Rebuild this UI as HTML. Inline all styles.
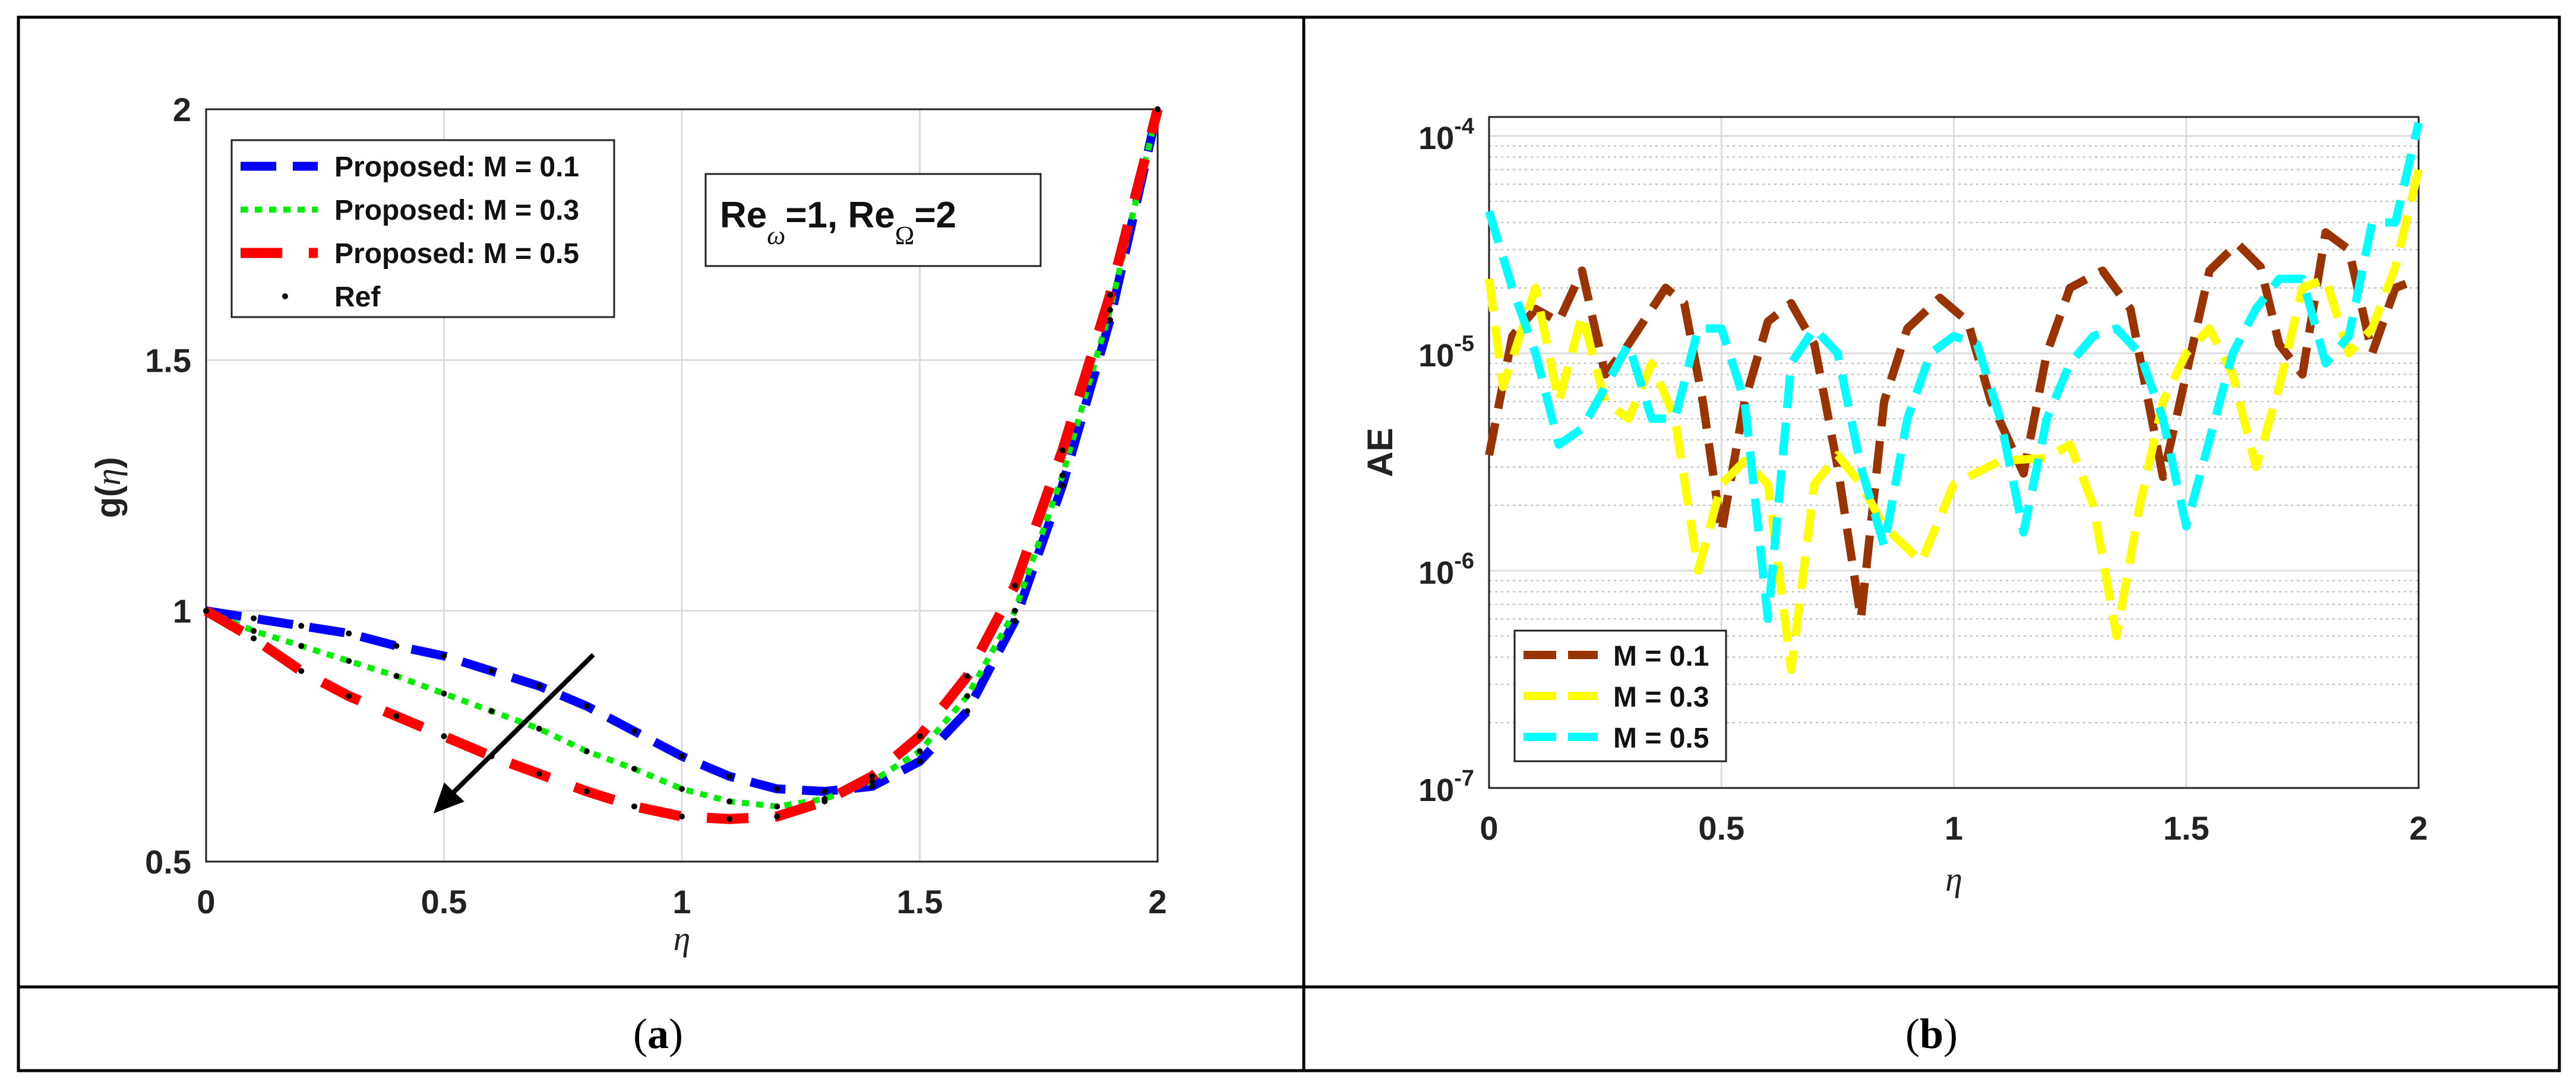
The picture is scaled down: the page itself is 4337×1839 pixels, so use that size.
<!DOCTYPE html>
<html><head><meta charset="utf-8"><style>
html,body{margin:0;padding:0;background:#fff;}
svg{display:block;font-family:"Liberation Sans",sans-serif;}
</style></head><body>
<svg id="fig" width="4337" height="1839" viewBox="0 0 4337 1839" xmlns="http://www.w3.org/2000/svg">
<rect x="0" y="0" width="4337" height="1839" fill="#fff"/>
<g stroke="#000" stroke-width="5" fill="none">
<rect x="31" y="29" width="4278" height="1774"/>
<line x1="2195" y1="29" x2="2195" y2="1803"/>
<line x1="31" y1="1662" x2="4309" y2="1662"/>
</g>
<text x="1108" y="1765" font-family="Liberation Serif,serif" font-size="72" text-anchor="middle">(<tspan font-weight="bold">a</tspan>)</text>
<text x="3252" y="1765" font-family="Liberation Serif,serif" font-size="72" text-anchor="middle">(<tspan font-weight="bold">b</tspan>)</text>
<g id="left"></g>
<g id="right"></g>
</svg>
<script>
const NS="http://www.w3.org/2000/svg";
// ---- Chart A data ----
const etaA=[0,0.1,0.2,0.3,0.4,0.5,0.6,0.7,0.8,0.9,1.0,1.1,1.2,1.3,1.4,1.5,1.6,1.7,1.8,1.9,2.0];
const gM1=[1,0.985,0.97,0.955,0.93,0.91,0.88,0.85,0.81,0.76,0.71,0.67,0.645,0.64,0.65,0.70,0.80,0.98,1.25,1.58,2.0];
const gM3=[1,0.96,0.93,0.9,0.87,0.835,0.8,0.765,0.72,0.685,0.645,0.62,0.61,0.625,0.66,0.72,0.83,1.0,1.27,1.6,2.0];
const gM5=[1,0.945,0.88,0.83,0.79,0.75,0.71,0.675,0.64,0.61,0.59,0.585,0.59,0.62,0.67,0.75,0.87,1.05,1.32,1.63,2.0];
const xTicksA=[0,0.5,1,1.5,2];
const yTicksA=[0.5,1,1.5,2];
const legendA=["Proposed: M = 0.1","Proposed: M = 0.3","Proposed: M = 0.5","Ref"];
// ---- Chart B data ----
const etaB1=[0,0.05,0.1,0.15,0.2,0.25,0.3,0.38,0.42,0.46,0.5,0.55,0.6,0.65,0.7,0.75,0.8,0.85,0.9,0.97,1.03,1.08,1.15,1.2,1.25,1.32,1.38,1.45,1.5,1.55,1.61,1.66,1.7,1.75,1.8,1.85,1.9,1.95,2.0];
const aeM1=[3.4e-6,1.2e-5,1.6e-5,1.4e-5,2.4e-5,8e-6,1.1e-5,2e-5,1.7e-5,6e-6,1.5e-6,6e-6,1.4e-5,1.7e-5,1.1e-5,3e-6,6e-7,6e-6,1.3e-5,1.8e-5,1.4e-5,6e-6,2.8e-6,1e-5,2e-5,2.4e-5,1.6e-5,2.7e-6,8e-6,2.4e-5,3.2e-5,2.5e-5,1.1e-5,8e-6,3.6e-5,3e-5,1e-5,2e-5,2.2e-5];
const etaB3=[0,0.03,0.1,0.15,0.2,0.25,0.3,0.35,0.4,0.45,0.5,0.55,0.6,0.65,0.7,0.75,0.8,0.85,0.93,1.0,1.1,1.2,1.25,1.3,1.35,1.4,1.45,1.5,1.55,1.6,1.65,1.7,1.75,1.8,1.85,1.9,1.95,2.0];
const aeM3=[2.2e-5,7e-6,2e-5,6e-6,1.5e-5,6e-6,5e-6,9e-6,5e-6,1e-6,2.5e-6,3.2e-6,2.5e-6,3.5e-7,2.5e-6,3.4e-6,2.5e-6,1.6e-6,1.1e-6,2.5e-6,3.2e-6,3.3e-6,3.8e-6,2e-6,5e-7,2e-6,6e-6,1e-5,1.3e-5,8e-6,3e-6,7e-6,2e-5,2.2e-5,1e-5,1.3e-5,2.5e-5,7e-5];
const etaB5=[0,0.05,0.1,0.15,0.2,0.25,0.3,0.35,0.4,0.45,0.5,0.55,0.6,0.63,0.65,0.7,0.75,0.8,0.85,0.9,0.95,1.0,1.05,1.1,1.15,1.2,1.25,1.3,1.35,1.4,1.45,1.5,1.55,1.6,1.65,1.7,1.75,1.8,1.85,1.9,1.95,2.0];
const aeM5=[4.5e-5,2e-5,1e-5,3.8e-6,4.5e-6,7e-6,1.1e-5,5e-6,5e-6,1.3e-5,1.3e-5,6e-6,6e-7,3e-6,9e-6,1.3e-5,1e-5,3e-6,1.3e-6,5e-6,1e-5,1.2e-5,1.1e-5,5e-6,1.5e-6,5e-6,9e-6,1.2e-5,1.3e-5,1e-5,5e-6,1.6e-6,4e-6,1e-5,1.6e-5,2.2e-5,2.2e-5,9e-6,1.2e-5,4e-5,4e-5,1.15e-4];
const xTicksB=[0,0.5,1,1.5,2];
const yExpB=[-4,-5,-6,-7];
const legendB=["M = 0.1","M = 0.3","M = 0.5"];

function mk(tag,attrs,parent,text){const e=document.createElementNS(NS,tag);for(const k in attrs)e.setAttribute(k,attrs[k]);if(text!==undefined)e.textContent=text;parent.appendChild(e);return e;}

// ---- Chart A ----
(function(){
const g=document.getElementById('left');
const L=347,R=1949,T=184,B=1451;
const xs=v=>L+(v-0)/(2-0)*(R-L);
const ys=v=>B-(v-0.5)/(2-0.5)*(B-T);
xTicksA.forEach(t=>{const l=mk('line',{x1:xs(t),x2:xs(t),y1:T,y2:B,stroke:'#dcdcdc','stroke-width':3},g);


const tx=mk('text',{x:xs(t),y:1538,'font-size':56,'font-weight':'bold','text-anchor':'middle',fill:'#222'},g,String(t));

});
yTicksA.forEach(t=>{const l=mk('line',{x1:L,x2:R,y1:ys(t),y2:ys(t),stroke:'#dcdcdc','stroke-width':3},g);


const tx=mk('text',{x:322,y:ys(t)+20,'font-size':56,'font-weight':'bold','text-anchor':'end',fill:'#222'},g,String(t));

});
const ax=mk('rect',{x:L,y:T,width:R-L,height:B-T,fill:'none',stroke:'#222','stroke-width':3},g);


const series=[[gM1,'#0000ff','60 28',15],[gM3,'#00ee00','12 12',10],[gM5,'#ff0000','70 45',17]];
series.forEach((s,i)=>{const d=etaA.map((x,j)=>(j?'L':'M')+xs(x)+' '+ys(s[0][j])).join(' ');
const p=mk('path',{d:d,fill:'none',stroke:s[1],'stroke-width':s[3],'stroke-dasharray':s[2]},g);

});
series.forEach((s,i)=>{etaA.forEach((x,j)=>{const c=mk('circle',{cx:xs(x),cy:ys(s[0][j]),r:5,fill:'#000'},g);

});});
const ar=mk('line',{x1:xs(0.814),y1:ys(0.9125),x2:xs(0.49),y2:ys(0.61),stroke:'#000','stroke-width':8},g);


const ah=mk('polygon',{points:`${xs(0.478)},${ys(0.596)} ${xs(0.478)+18},${ys(0.596)-52} ${xs(0.478)+52},${ys(0.596)-20}`,fill:'#000'},g);


const yl=mk('text',{x:0,y:0,'font-size':58,'font-weight':'bold','text-anchor':'middle',transform:'translate(202,821) rotate(-90)',fill:'#222'},g);
yl.innerHTML='g(<tspan font-family="Liberation Serif,serif" font-style="italic" font-weight="normal">η</tspan>)';


const xl=mk('text',{x:xs(1),y:1600,'font-size':58,'font-family':'Liberation Serif,serif','font-style':'italic','text-anchor':'middle',fill:'#222'},g,'η');


const lg=mk('g',{},g);


mk('rect',{x:390,y:236,width:644,height:298,fill:'#fff',stroke:'#222','stroke-width':3},lg);
legendA.forEach((t,i)=>{const y=280+i*73;
if(i<3){const s=series[i];mk('line',{x1:405,x2:535,y1:y,y2:y,stroke:s[1],'stroke-width':s[3],'stroke-dasharray':s[2]},lg);}
else mk('circle',{cx:480,cy:y,r:5,fill:'#000'},lg);
const tx=mk('text',{x:563,y:y+17,'font-size':48,'font-weight':'bold',fill:'#111'},lg,t);

});
const ab=mk('g',{},g);


mk('rect',{x:1188,y:293,width:564,height:155,fill:'#fff',stroke:'#222','stroke-width':3},ab);
const at=mk('text',{x:1212,y:383,'font-size':62,'font-weight':'bold',fill:'#111'},ab);
at.innerHTML='Re<tspan dy="28" font-size="44" font-family="Liberation Serif,serif" font-style="italic" font-weight="normal">ω</tspan><tspan dy="-28">=1, Re</tspan><tspan dy="28" font-size="44" font-family="Liberation Serif,serif" font-weight="normal">Ω</tspan><tspan dy="-28">=2</tspan>';
})();

// ---- Chart B ----
(function(){
const g=document.getElementById('right');
const L=2507,R=4072,T=197,B=1327;
const dec=366;
const xs=v=>L+v/2*(R-L);
const ys=v=>B-(Math.log10(v)+7)*dec;
for(let e=-7;e<-3;e++){for(let m=2;m<=9;m++){const y=B-(e+7+Math.log10(m))*dec;if(y<T)continue;
const l=mk('line',{x1:L,x2:R,y1:y,y2:y,stroke:'#bbb','stroke-width':2,'stroke-dasharray':'4 6'},g);

}}
yExpB.forEach(e=>{const y=B-(e+7)*dec;
const l=mk('line',{x1:L,x2:R,y1:y,y2:y,stroke:'#dcdcdc','stroke-width':3},g);


const tx=mk('text',{x:2482,y:y+22,'font-size':54,'font-weight':'bold','text-anchor':'end',fill:'#222'},g);
tx.innerHTML='10<tspan dy="-26" font-size="38">'+e+'</tspan>';

});
xTicksB.forEach(t=>{const l=mk('line',{x1:xs(t),x2:xs(t),y1:T,y2:B,stroke:'#dcdcdc','stroke-width':3},g);


const tx=mk('text',{x:xs(t),y:1414,'font-size':56,'font-weight':'bold','text-anchor':'middle',fill:'#222'},g,String(t));

});
const ax=mk('rect',{x:L,y:T,width:R-L,height:B-T,fill:'none',stroke:'#222','stroke-width':3},g);


const series=[[etaB1,aeM1,'#993300'],[etaB3,aeM3,'#ffff00'],[etaB5,aeM5,'#00ffff']];
series.forEach((s,i)=>{const d=s[0].map((x,j)=>(j?'L':'M')+xs(x)+' '+ys(s[1][j])).join(' ');
const p=mk('path',{d:d,fill:'none',stroke:s[2],'stroke-width':14,'stroke-dasharray':'55 25','stroke-linejoin':'round'},g);

});
const yl=mk('text',{x:0,y:0,'font-size':60,'font-weight':'bold','text-anchor':'middle',transform:'translate(2344,762) rotate(-90)',fill:'#222'},g,'AE');


const xl=mk('text',{x:xs(1),y:1500,'font-size':58,'font-family':'Liberation Serif,serif','font-style':'italic','text-anchor':'middle',fill:'#222'},g,'η');


const lg=mk('g',{},g);


mk('rect',{x:2550,y:1062,width:356,height:220,fill:'#fff',stroke:'#222','stroke-width':3},lg);
legendB.forEach((t,i)=>{const y=1103+i*69;
mk('line',{x1:2565,x2:2690,y1:y,y2:y,stroke:series[i][2],'stroke-width':14,'stroke-dasharray':'55 20'},lg);
const tx=mk('text',{x:2716,y:y+18,'font-size':48,'font-weight':'bold',fill:'#111'},lg,t);

});
})();
</script>
</body></html>
